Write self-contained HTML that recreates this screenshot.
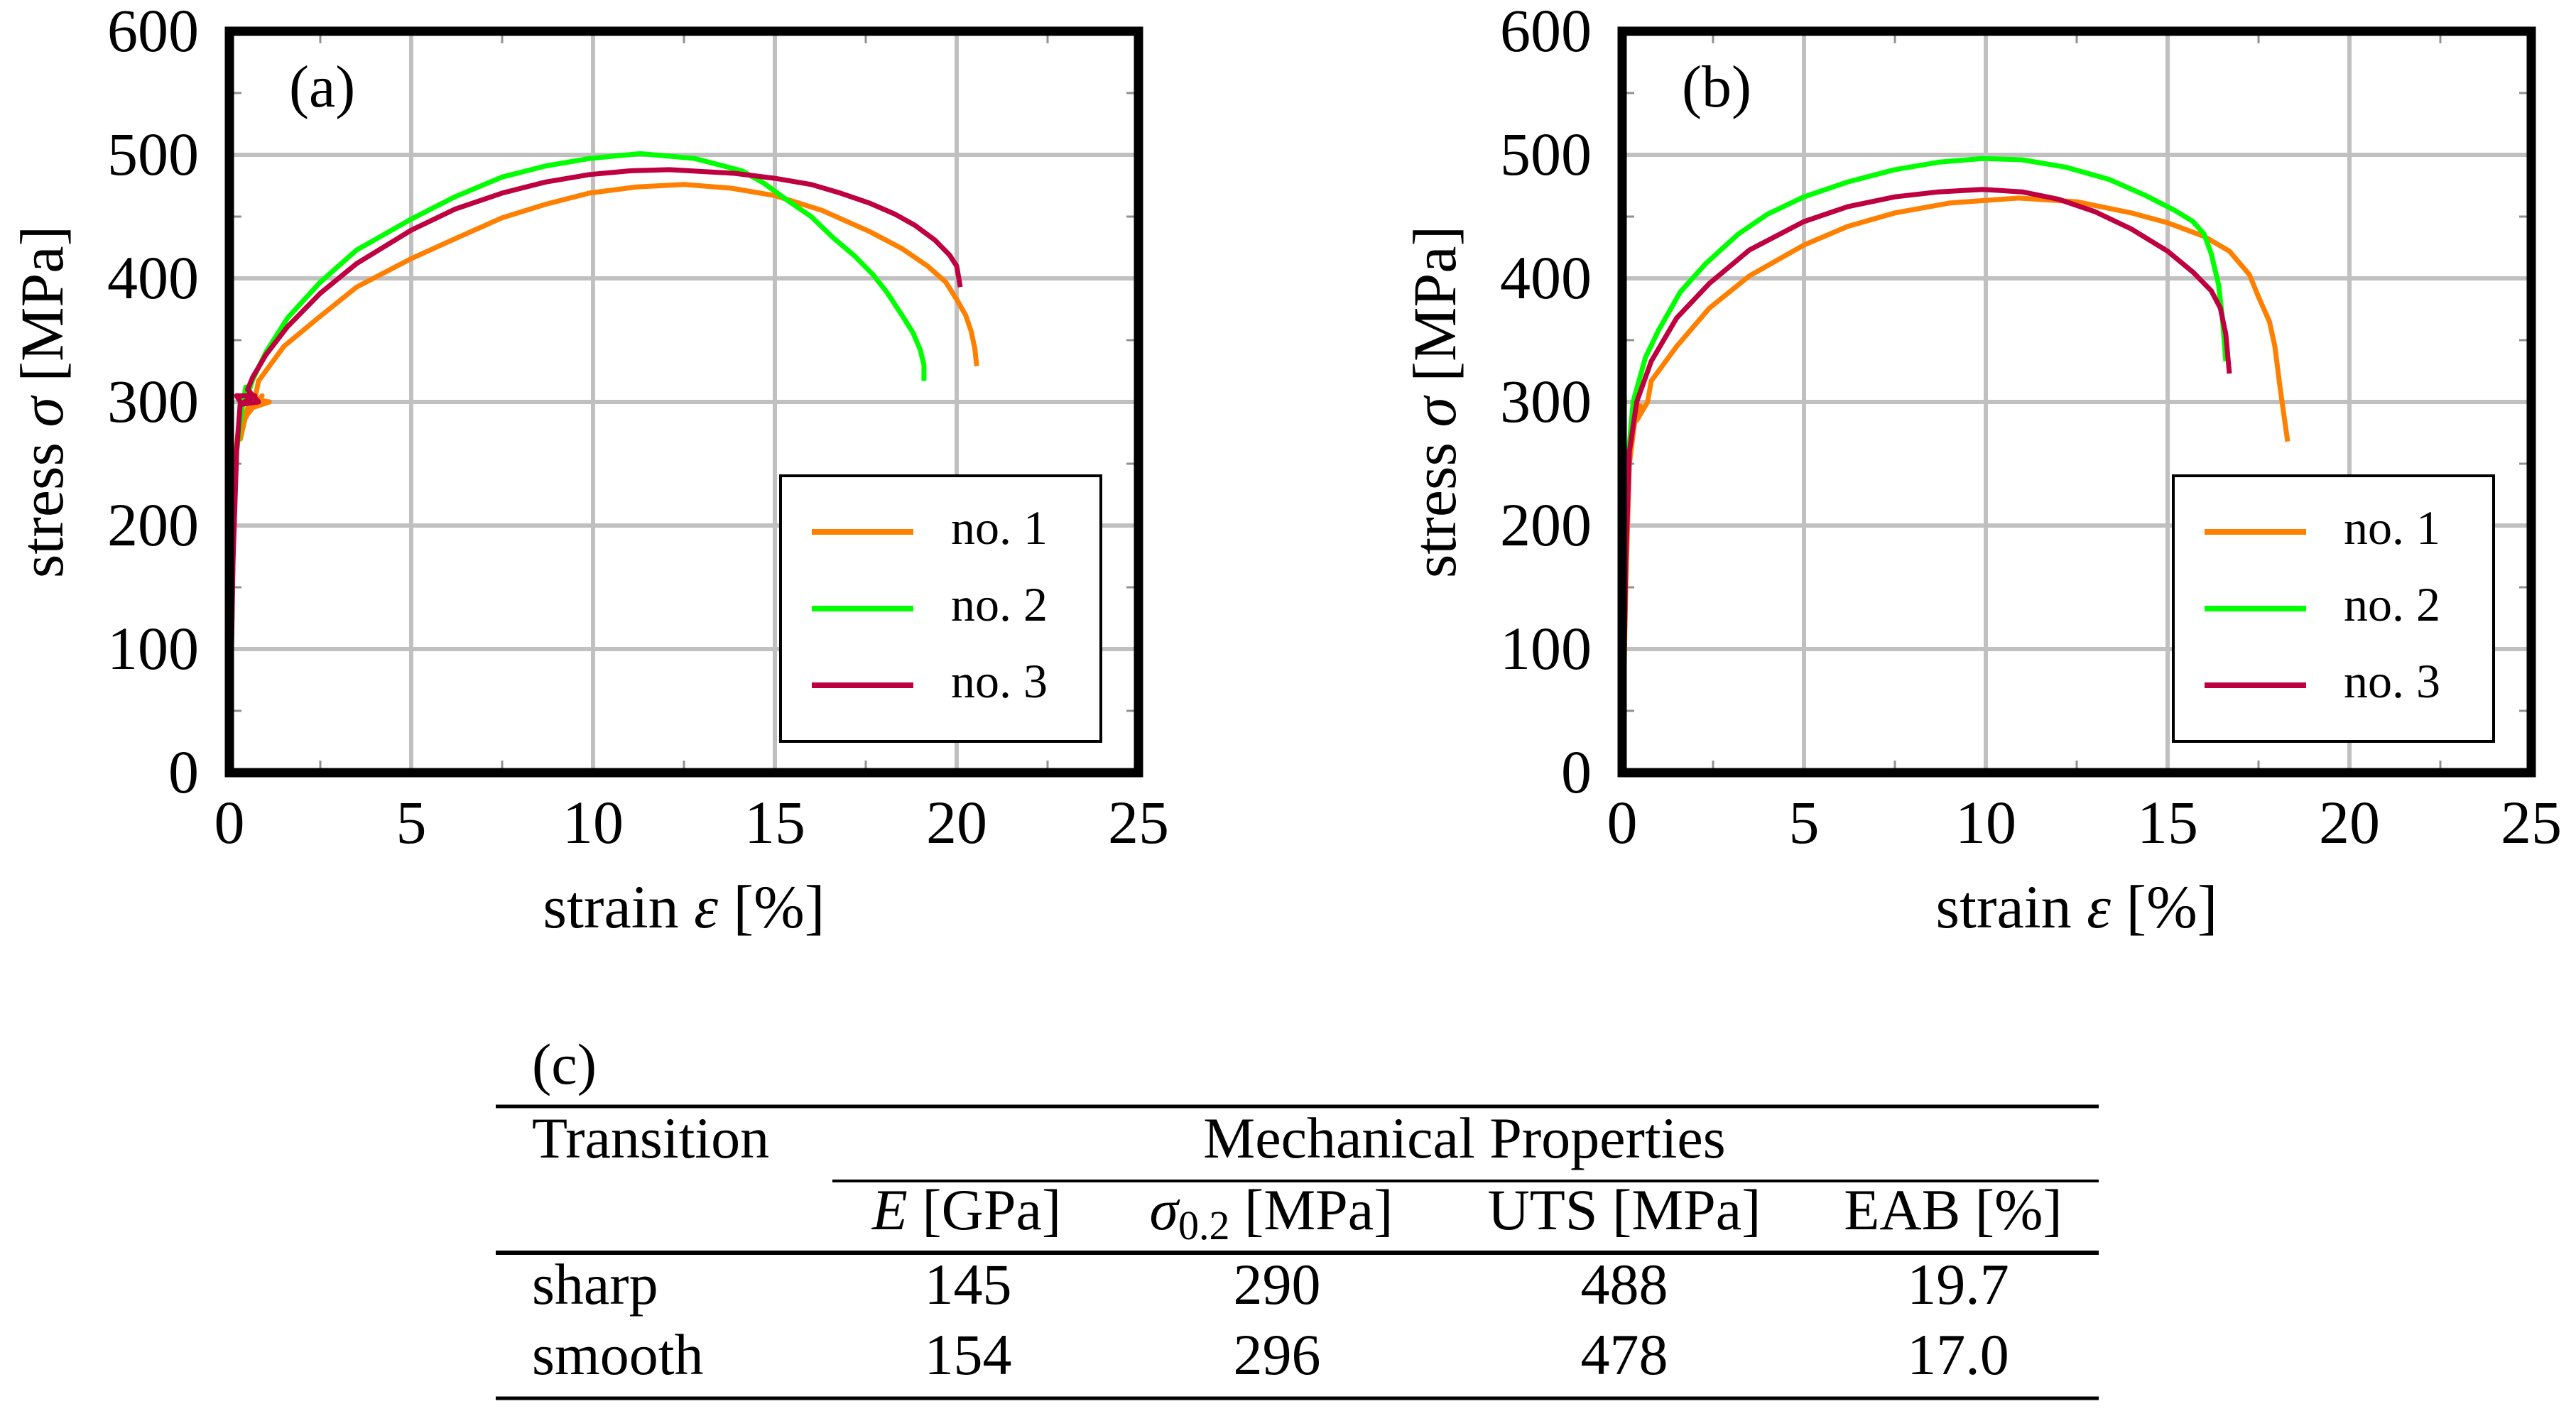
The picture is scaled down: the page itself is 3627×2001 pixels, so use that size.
<!DOCTYPE html>
<html><head><meta charset="utf-8">
<style>
html,body{margin:0;padding:0;background:#fff;}
svg{display:block;}
text{font-family:"Liberation Serif",serif;fill:#000;}
</style></head>
<body>
<svg id="fig" width="3627" height="2001" viewBox="0 0 3627 2001" xmlns="http://www.w3.org/2000/svg">
  <g id="plotA"></g>
  <g id="plotB"></g>
  <g id="table">
    <text x="749" y="1526" font-size="82">(c)</text>
    <line x1="698" y1="1558" x2="2955" y2="1558" stroke="#000" stroke-width="5"/>
    <text x="749" y="1630" font-size="82">Transition</text>
    <text x="2062" y="1630" font-size="82" text-anchor="middle">Mechanical Properties</text>
    <line x1="1172" y1="1663" x2="2955" y2="1663" stroke="#000" stroke-width="4"/>
    <text x="1361" y="1731" font-size="82" text-anchor="middle"><tspan font-style="italic">E</tspan> [GPa]</text>
    <text x="1790" y="1731" font-size="82" text-anchor="middle"><tspan font-style="italic">σ</tspan><tspan font-size="58" dy="14">0.2</tspan><tspan dy="-14"> [MPa]</tspan></text>
    <text x="2287" y="1731" font-size="82" text-anchor="middle">UTS [MPa]</text>
    <text x="2750" y="1731" font-size="82" text-anchor="middle">EAB [%]</text>
    <line x1="698" y1="1764" x2="2955" y2="1764" stroke="#000" stroke-width="6"/>
    <text x="749" y="1836" font-size="82">sharp</text>
    <text x="1363" y="1836" font-size="82" text-anchor="middle">145</text>
    <text x="1798" y="1836" font-size="82" text-anchor="middle">290</text>
    <text x="2287" y="1836" font-size="82" text-anchor="middle">488</text>
    <text x="2757" y="1836" font-size="82" text-anchor="middle">19.7</text>
    <text x="749" y="1935" font-size="82">smooth</text>
    <text x="1363" y="1935" font-size="82" text-anchor="middle">154</text>
    <text x="1798" y="1935" font-size="82" text-anchor="middle">296</text>
    <text x="2287" y="1935" font-size="82" text-anchor="middle">478</text>
    <text x="2757" y="1935" font-size="82" text-anchor="middle">17.0</text>
    <line x1="698" y1="1969" x2="2955" y2="1969" stroke="#000" stroke-width="5"/>
  </g>
</svg>
<script>
const xTicks = [0, 5, 10, 15, 20, 25];
const yTicks = [0, 100, 200, 300, 400, 500, 600];
const seriesNames = ["no. 1", "no. 2", "no. 3"];
const seriesColors = ["#ff8000", "#00ff00", "#bf0040"];

// Plot (a)
const a1Strain = [0, 0.08, 0.15, 0.25, 0.3, 0.5, 0.4, 0.7, 0.5, 0.9, 0.6, 1.1, 0.7, 0.8, 1.5, 2.4, 3.5, 5, 6.2, 7.5, 8.7, 9.9, 11.2, 12.5, 13.8, 15, 16.3, 17.6, 18.5, 19.2, 19.7, 20, 20.25, 20.4, 20.5, 20.55];
const a1Stress = [0, 150, 250, 280, 270, 295, 285, 300, 290, 305, 295, 300, 302, 317, 345, 367, 393, 416, 432, 449, 460, 469, 474, 476, 473, 467, 455, 438, 424, 410, 397, 383, 370, 357, 343, 329];
const a2Strain = [0, 0.1, 0.2, 0.35, 0.45, 0.5, 0.55, 0.64, 1, 1.6, 2.5, 3.5, 5, 6.2, 7.5, 8.7, 9.9, 11.3, 12.8, 14.1, 14.7, 15.3, 16, 16.6, 17.2, 17.7, 18.1, 18.5, 18.8, 19.0, 19.1, 19.1];
const a2Stress = [0, 180, 260, 295, 312, 300, 310, 318, 340, 368, 397, 423, 448, 466, 482, 491, 497, 501, 497, 487, 477, 464, 450, 433, 418, 403, 388, 370, 356, 342, 330, 317];
const a3Strain = [0, 0.1, 0.2, 0.3, 0.2, 0.7, 0.3, 0.8, 0.5, 0.64, 1, 1.6, 2.5, 3.5, 5, 6.2, 7.5, 8.7, 9.9, 11, 12.1, 13.9, 15, 16, 16.8, 17.6, 18.3, 18.85, 19.4, 19.8, 20.0, 20.1];
const a3Stress = [0, 170, 260, 300, 305, 305, 298, 300, 310, 320, 338, 361, 388, 412, 439, 456, 469, 478, 484, 487, 488, 485, 481, 476, 469, 461, 452, 443, 431, 419, 410, 393];

// Plot (b)
const b1Strain = [0, 0.1, 0.2, 0.35, 0.5, 0.3, 0.6, 0.4, 0.7, 0.8, 1.5, 2.4, 3.5, 5, 6.2, 7.5, 9, 10.9, 12.5, 14, 15, 16, 16.7, 17.25, 17.5, 17.8, 17.95, 18.1, 18.3];
const b1Stress = [0, 150, 250, 285, 290, 300, 295, 285, 300, 317, 345, 376, 402, 427, 442, 453, 461, 465, 462, 453, 445, 434, 422, 403, 385, 365, 345, 310, 268];
const b2Strain = [0, 0.08, 0.15, 0.3, 0.64, 1, 1.6, 2.3, 3.2, 4, 5, 6.2, 7.5, 8.7, 9.9, 11, 12.2, 13.4, 14.4, 15.2, 15.7, 16, 16.2, 16.4, 16.5, 16.6];
const b2Stress = [0, 180, 250, 300, 336, 358, 389, 412, 436, 452, 466, 478, 488, 494, 497, 496, 490, 480, 467, 455, 446, 436, 420, 395, 370, 333];
const b3Strain = [0, 0.1, 0.2, 0.4, 0.8, 1.5, 2.4, 3.5, 5, 6.2, 7.5, 8.7, 9.9, 11, 12, 13, 14, 15, 15.7, 16.2, 16.45, 16.6, 16.7];
const b3Stress = [0, 170, 260, 300, 333, 368, 396, 423, 446, 458, 466, 470, 472, 470, 464, 454, 440, 422, 405, 390, 376, 355, 323];

const NS = "http://www.w3.org/2000/svg";
function mk(tag, attrs, parent) {
  const e = document.createElementNS(NS, tag);
  for (const k in attrs) e.setAttribute(k, attrs[k]);
  parent.appendChild(e);
  return e;
}

function drawPlot(g, x0, label, series) {
  const left = x0, right = x0 + 1280, top = 44, bottom = 1088;
  const xs = v => left + (v / 25) * (right - left);
  const ys = v => bottom - (v / 600) * (bottom - top);
  for (const t of xTicks) {
    const l = mk("line", {x1: xs(t), y1: top, x2: xs(t), y2: bottom, stroke: "#c0c0c0", "stroke-width": 6}, g);
    
    
  }
  for (const t of yTicks) {
    const l = mk("line", {x1: left, y1: ys(t), x2: right, y2: ys(t), stroke: "#c0c0c0", "stroke-width": 6}, g);
    
    
  }
  for (let i = 0; i < xTicks.length - 1; i++) {
    const m = (xTicks[i] + xTicks[i + 1]) / 2;
    for (const [yA, yB] of [[bottom, bottom - 17], [top, top + 17]]) {
      const l = mk("line", {x1: xs(m), y1: yA, x2: xs(m), y2: yB, stroke: "#909090", "stroke-width": 3}, g);
      
      
    }
  }
  for (let i = 0; i < yTicks.length - 1; i++) {
    const m = (yTicks[i] + yTicks[i + 1]) / 2;
    for (const [xA, xB] of [[left, left + 17], [right, right - 17]]) {
      const l = mk("line", {x1: xA, y1: ys(m), x2: xB, y2: ys(m), stroke: "#909090", "stroke-width": 3}, g);
      
      
    }
  }
  series.forEach((s, i) => {
    const d = s.x.map((v, k) => (k ? "L" : "M") + xs(v).toFixed(1) + "," + ys(s.y[k]).toFixed(1)).join(" ");
    const p = mk("path", {d: d, fill: "none", stroke: seriesColors[i], "stroke-width": 7, "stroke-linejoin": "round"}, g);
    
    
  });
  const f = mk("rect", {x: left, y: top, width: right - left, height: bottom - top, fill: "none", stroke: "#000", "stroke-width": 13}, g);
  
  
  for (const t of xTicks) {
    const tx = mk("text", {x: xs(t), y: 1187, "font-size": 86, "text-anchor": "middle"}, g);
    tx.textContent = t;
    
    
  }
  for (const t of yTicks) {
    const tx = mk("text", {x: left - 43, y: ys(t) + 28, "font-size": 86, "text-anchor": "end"}, g);
    tx.textContent = t;
    
    
  }
  const xt = mk("text", {x: (left + right) / 2, y: 1306, "font-size": 86, "text-anchor": "middle"}, g);
  xt.innerHTML = 'strain <tspan font-style="italic">ε</tspan> [%]';
  
  
  const yt = mk("text", {x: 0, y: 0, "font-size": 86, "text-anchor": "middle", transform: "translate(" + (left - 235) + "," + ((top + bottom) / 2) + ") rotate(-90)"}, g);
  yt.innerHTML = 'stress <tspan font-style="italic">σ</tspan> [MPa]';
  
  
  const pl = mk("text", {x: left + 84, y: 150, "font-size": 84}, g);
  pl.textContent = label;
  
  
  const lg = mk("g", {}, g);
  
  
  const lx = left + 776;
  const box = mk("rect", {x: lx, y: 670, width: 451, height: 374, fill: "#fff", stroke: "#000", "stroke-width": 4}, lg);
  
  
  seriesNames.forEach((n, i) => {
    const yy = 749 + i * 108;
    const ln = mk("line", {x1: lx + 44, y1: yy, x2: lx + 187, y2: yy, stroke: seriesColors[i], "stroke-width": 8}, lg);
    
    
    const tx = mk("text", {x: lx + 240, y: yy + 17, "font-size": 68}, lg);
    tx.textContent = n;
    
    
  });
}

drawPlot(document.getElementById("plotA"), 323, "(a)", [
  {x: a1Strain, y: a1Stress}, {x: a2Strain, y: a2Stress}, {x: a3Strain, y: a3Stress}
]);
drawPlot(document.getElementById("plotB"), 2284, "(b)", [
  {x: b1Strain, y: b1Stress}, {x: b2Strain, y: b2Stress}, {x: b3Strain, y: b3Stress}
]);
</script>
</body></html>
